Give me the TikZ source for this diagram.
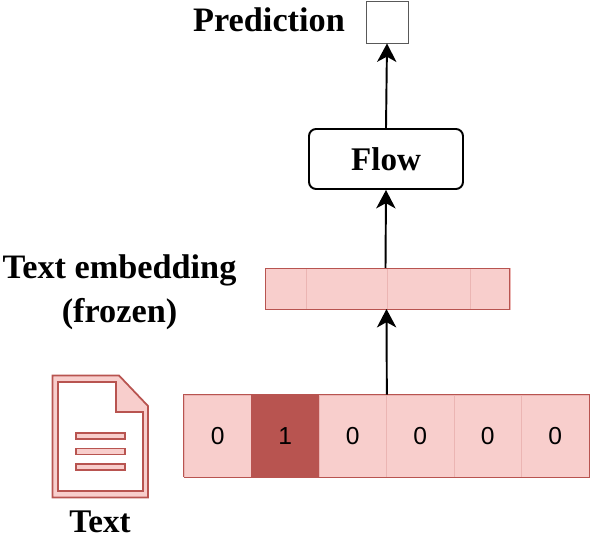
\documentclass[tikz,border=0pt]{standalone}
\usepackage{fontspec}
\setmainfont{Liberation Serif}
\setsansfont{Liberation Sans}
\usetikzlibrary{arrows.meta}
\definecolor{cellfill}{HTML}{F8CECC}
\definecolor{cellline}{HTML}{B85450}
\definecolor{celldiv}{HTML}{EBB5B3}

\begin{document}
\begin{tikzpicture}[x=0.02cm,y=-0.02cm]
  \tikzstyle{title}=[font=\fontsize{19.5}{22}\selectfont\bfseries,inner sep=0pt,align=center]
  \tikzstyle{cell}=[fill=cellfill,draw=celldiv,line width=0.4pt,minimum width=1.35cm,minimum height=1.64cm,inner sep=0pt,font=\fontsize{14}{16}\sffamily\selectfont]
  \tikzstyle{hot}=[cell,fill=cellline,draw=cellline]
  \tikzstyle{band}=[fill=cellfill,draw=celldiv,line width=0.4pt,minimum height=0.82cm,inner sep=0pt]
  \tikzstyle{outline}=[draw=cellline,line width=0.55pt,minimum width=4.9cm,minimum height=0.82cm,inner sep=0pt]
  \tikzstyle{flowbox}=[draw=black,fill=white,line width=1.1pt,rounded corners=4pt,minimum width=3.08cm,minimum height=1.2cm,inner sep=0pt,font=\fontsize{18.8}{22}\selectfont\bfseries]
  \tikzstyle{link}=[line width=1.1pt,-{Stealth[length=10.5pt,width=11pt,inset=3pt]}]
  \tikzstyle{doc}=[draw=cellline,line width=1.1pt,line join=miter]
  \useasboundingbox (0,0) rectangle (592,536);

  % one-hot row
  \foreach \name/\val/\cx/\kind in {c1/0/217.75/cell,c2/1/285.25/hot,c3/0/352.75/cell,c4/0/420.25/cell,c5/0/487.75/cell,c6/0/555.25/cell}
    \node[\kind] (\name) at (\cx,436) {\val};
  \draw[cellline,line width=0.55pt] (c1.south west) -- (c1.north west) -- (c6.north east) -- (c6.south east) -- (c1.south west);
  \coordinate (rowtop) at (c3.north east);

  % embedding
  \node[band,minimum width=0.82cm] (e1) at (285.5,288.5) {};
  \node[band,minimum width=1.62cm] (e2) at (346.5,288.5) {};
  \node[band,minimum width=1.66cm] (e3) at (428.5,288.5) {};
  \node[band,minimum width=0.8cm] (e4) at (490,288.5) {};
  \node[outline] (emb) at (387.5,288.5) {};
  \coordinate (embbot) at (386.5,309);
  \coordinate (embtop) at (385.5,268);

  \node[flowbox] (flow) at (386,159) {Flow};
  \node[draw=black!65,line width=0.55pt,fill=white,minimum size=0.84cm,inner sep=0pt] (pred) at (387,22) {};

  \node[title] (predlabel) at (269,20) {Prediction};
  \node[title] (emblabel) at (119.5,292.5) {Text embedding\\[3pt](frozen)};
  \node[title,font=\fontsize{18.8}{22}\selectfont\bfseries] (textlabel) at (100,522) {Text};

  \draw[link] (rowtop) -- (embbot);
  \draw[link] (embtop) -- (flow.south);
  \draw[link] (flow.north) -- (pred.south);

  % document icon
  \fill[cellfill,draw=cellline,line width=1pt] (52.5,375.5) -- (119,375.5) -- (148,406) -- (148,497.5) -- (52.5,497.5) -- cycle;
  \draw[doc,fill=white] (58,382) -- (116,382) -- (116,412) -- (143,412) -- (143,491) -- (58,491) -- cycle;
  \foreach \ly in {436,451.5,467}
    \draw[doc,fill=cellfill] (76,\ly-3) rectangle (125,\ly+3);
\end{tikzpicture}
\end{document}
